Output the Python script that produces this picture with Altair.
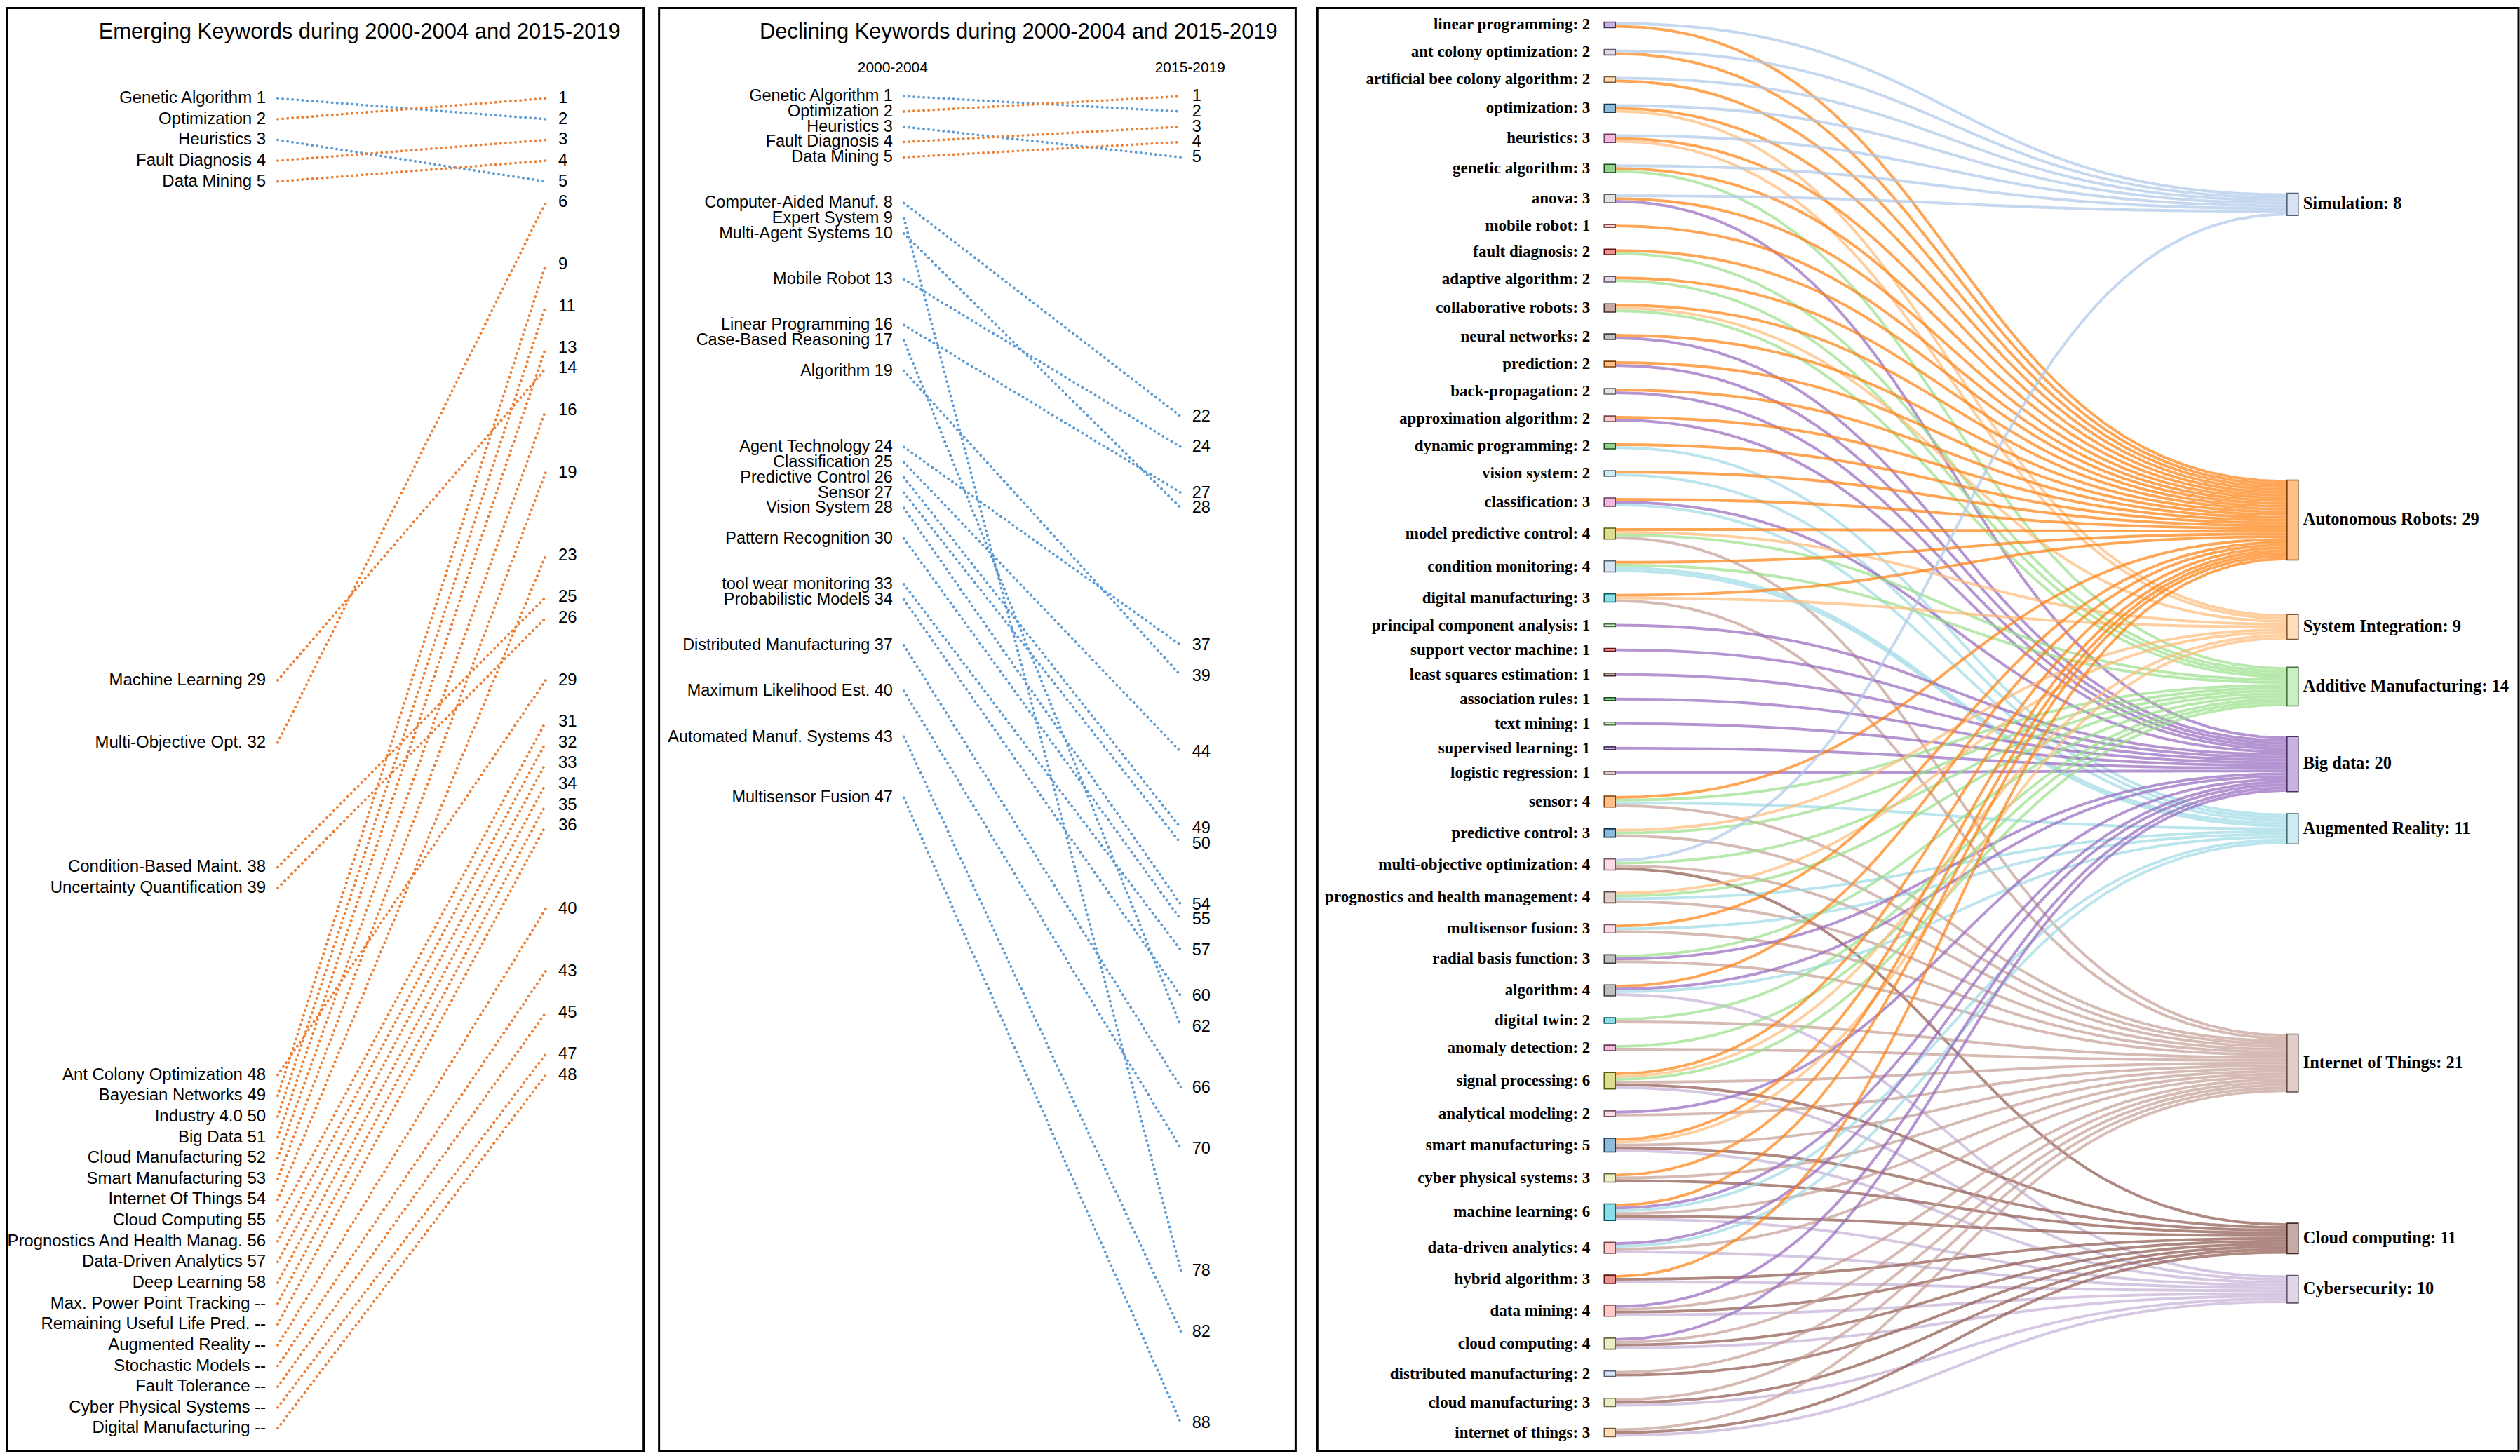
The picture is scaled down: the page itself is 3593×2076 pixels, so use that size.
import altair as alt
import pandas as pd

alt.data_transformers.disable_max_rows()

# ------------------------------------------------------------------ data
# Panel 1: emerging keywords (rank in 2000-2004 -> rank in 2015-2019)
em_keywords = ["Genetic Algorithm", "Optimization", "Heuristics", "Fault Diagnosis", "Data Mining",
               "Machine Learning", "Multi-Objective Opt.", "Condition-Based Maint.",
               "Uncertainty Quantification", "Ant Colony Optimization", "Bayesian Networks",
               "Industry 4.0", "Big Data", "Cloud Manufacturing", "Smart Manufacturing",
               "Internet Of Things", "Cloud Computing", "Prognostics And Health Manag.",
               "Data-Driven Analytics", "Deep Learning", "Max. Power Point Tracking",
               "Remaining Useful Life Pred.", "Augmented Reality", "Stochastic Models",
               "Fault Tolerance", "Cyber Physical Systems", "Digital Manufacturing"]
em_rank_2000 = [1, 2, 3, 4, 5, 29, 32, 38, 39, 48, 49, 50, 51, 52, 53, 54, 55, 56, 57, 58,
                None, None, None, None, None, None, None]
em_rank_2015 = [2, 1, 5, 3, 4, 14, 6, 25, 26, 29, 9, 11, 13, 16, 19, 23, 31, 32, 33, 34,
                35, 36, 40, 43, 45, 47, 48]

# Panel 2: declining keywords
de_keywords = ["Genetic Algorithm", "Optimization", "Heuristics", "Fault Diagnosis", "Data Mining",
               "Computer-Aided Manuf.", "Expert System", "Multi-Agent Systems", "Mobile Robot",
               "Linear Programming", "Case-Based Reasoning", "Algorithm", "Agent Technology",
               "Classification", "Predictive Control", "Sensor", "Vision System",
               "Pattern Recognition", "tool wear monitoring", "Probabilistic Models",
               "Distributed Manufacturing", "Maximum Likelihood Est.", "Automated Manuf. Systems",
               "Multisensor Fusion"]
de_rank_2000 = [1, 2, 3, 4, 5, 8, 9, 10, 13, 16, 17, 19, 24, 25, 26, 27, 28, 30, 33, 34, 37, 40, 43, 47]
de_rank_2015 = [2, 1, 5, 3, 4, 22, 78, 28, 24, 27, 62, 39, 37, 44, 49, 50, 54, 55, 57, 60, 66, 70, 82, 88]
periods = ["2000-2004", "2015-2019"]

# Panel 3: Sankey
sk_sources = ["linear programming", "ant colony optimization", "artificial bee colony algorithm",
              "optimization", "heuristics", "genetic algorithm", "anova", "mobile robot",
              "fault diagnosis", "adaptive algorithm", "collaborative robots", "neural networks",
              "prediction", "back-propagation", "approximation algorithm", "dynamic programming",
              "vision system", "classification", "model predictive control", "condition monitoring",
              "digital manufacturing", "principal component analysis", "support vector machine",
              "least squares estimation", "association rules", "text mining", "supervised learning",
              "logistic regression", "sensor", "predictive control", "multi-objective optimization",
              "prognostics and health management", "multisensor fusion", "radial basis function",
              "algorithm", "digital twin", "anomaly detection", "signal processing",
              "analytical modeling", "smart manufacturing", "cyber physical systems",
              "machine learning", "data-driven analytics", "hybrid algorithm", "data mining",
              "cloud computing", "distributed manufacturing", "cloud manufacturing",
              "internet of things"]
sk_targets = ["Simulation", "Autonomous Robots", "System Integration", "Additive Manufacturing",
              "Big data", "Augmented Reality", "Internet of Things", "Cloud computing", "Cybersecurity"]
# links: for each source keyword, the target topics it connects to (one unit each)
sk_links = [
    ["Simulation", "Autonomous Robots"],
    ["Simulation", "Autonomous Robots"],
    ["Simulation", "Autonomous Robots"],
    ["Simulation", "Autonomous Robots", "System Integration"],
    ["Simulation", "Autonomous Robots", "System Integration"],
    ["Simulation", "Autonomous Robots", "Additive Manufacturing"],
    ["Simulation", "Autonomous Robots", "Big data"],
    ["Autonomous Robots"],
    ["Autonomous Robots", "Additive Manufacturing"],
    ["Autonomous Robots", "Additive Manufacturing"],
    ["Autonomous Robots", "System Integration", "Additive Manufacturing"],
    ["Autonomous Robots", "Big data"],
    ["Autonomous Robots", "Big data"],
    ["Autonomous Robots", "Big data"],
    ["Autonomous Robots", "Big data"],
    ["Autonomous Robots", "Augmented Reality"],
    ["Autonomous Robots", "Augmented Reality"],
    ["Autonomous Robots", "Big data", "Augmented Reality"],
    ["Autonomous Robots", "System Integration", "Additive Manufacturing", "Internet of Things"],
    ["Autonomous Robots", "Additive Manufacturing", "Augmented Reality", "Augmented Reality"],
    ["Autonomous Robots", "System Integration", "Internet of Things"],
    ["Big data"], ["Big data"], ["Big data"], ["Big data"], ["Big data"], ["Big data"], ["Big data"],
    ["Autonomous Robots", "Additive Manufacturing", "Augmented Reality", "Internet of Things"],
    ["System Integration", "Additive Manufacturing", "Internet of Things"],
    ["Simulation", "Additive Manufacturing", "Internet of Things", "Cloud computing"],
    ["System Integration", "Additive Manufacturing", "Augmented Reality", "Internet of Things"],
    ["Autonomous Robots", "Augmented Reality", "Internet of Things"],
    ["Additive Manufacturing", "Big data", "Internet of Things"],
    ["Autonomous Robots", "Big data", "Augmented Reality", "Cybersecurity"],
    ["Additive Manufacturing", "Internet of Things"],
    ["Additive Manufacturing", "Internet of Things"],
    ["Autonomous Robots", "System Integration", "Additive Manufacturing", "Internet of Things",
     "Cloud computing", "Cybersecurity"],
    ["Big data", "Internet of Things"],
    ["Autonomous Robots", "System Integration", "Internet of Things", "Cloud computing", "Cybersecurity"],
    ["Autonomous Robots", "Internet of Things", "Cloud computing"],
    ["Autonomous Robots", "Big data", "Augmented Reality", "Internet of Things", "Cloud computing",
     "Cybersecurity"],
    ["Big data", "Augmented Reality", "Internet of Things", "Cybersecurity"],
    ["Autonomous Robots", "Cloud computing", "Cybersecurity"],
    ["Big data", "Internet of Things", "Cloud computing", "Cybersecurity"],
    ["Big data", "Internet of Things", "Cloud computing", "Cybersecurity"],
    ["Internet of Things", "Cloud computing"],
    ["Internet of Things", "Cloud computing", "Cybersecurity"],
    ["Internet of Things", "Cloud computing", "Cybersecurity"],
]

# ------------------------------------------------------------------ styles
ORANGE = "#ED7D31"
BLUE = "#5B9BD5"
FONT_SANS = "'Liberation Sans', Arial, sans-serif"
FONT_SERIF = "'Liberation Serif', 'Times New Roman', serif"
SRC_COLORS = ["#9467bd", "#c5b0d5", "#ffbb78", "#1f77b4", "#e377c2", "#2ca02c", "#c7c7c7", "#ff9896",
              "#d62728", "#c5b0d5", "#8c564b", "#7f7f7f", "#ff7f0e", "#c7c7c7", "#ff9896", "#2ca02c",
              "#9edae5", "#e377c2", "#bcbd22", "#aec7e8", "#17becf", "#98df8a", "#d62728", "#8c564b",
              "#2ca02c", "#98df8a", "#9467bd", "#c49c94", "#ff7f0e", "#1f77b4", "#f7b6d2", "#c49c94",
              "#f7b6d2", "#7f7f7f", "#7f7f7f", "#17becf", "#e377c2", "#bcbd22", "#f7b6d2", "#1f77b4",
              "#dbdb8d", "#17becf", "#ff9896", "#d62728", "#ff9896", "#dbdb8d", "#aec7e8", "#dbdb8d",
              "#ffbb78"]
TGT_COLORS = ["#aec7e8", "#ff7f0e", "#ffbb78", "#98df8a", "#9467bd", "#9edae5", "#c49c94",
              "#8c564b", "#c5b0d5"]

PANEL_W, PANEL_H = 910, 2062
SANKEY_W = 1717


def darker(hexcol, k=2):
    f = 0.7 ** k
    r, g, b = (int(hexcol[i:i + 2], 16) for i in (1, 3, 5))
    return "#%02x%02x%02x" % (int(r * f), int(g * f), int(b * f))


# ------------------------------------------------------------------ slope panels
def slope_panel(keywords, r0, r1, title, xdom, ydom, title_x, dx_l, dx_r, fsize, headers=False):
    last = max(r for r in r0 if r is not None)
    k = 0
    lines, left, right = [], [], []
    for name, a, b in zip(keywords, r0, r1):
        if a is None:
            k += 1
            pos = last + k
            lab = f"{name} --"
        else:
            pos = a
            lab = f"{name} {a}"
        col = ORANGE if (a is None or b < a) else BLUE
        lines.append({"kw": name, "p": 0, "rank": pos, "col": col})
        lines.append({"kw": name, "p": 1, "rank": b, "col": col})
        left.append({"p": 0, "rank": pos, "lab": lab})
        right.append({"p": 1, "rank": b, "lab": str(b)})
    xs = alt.Scale(domain=xdom, nice=False, zero=False)
    ys = alt.Scale(domain=ydom, nice=False, zero=False, reverse=True)
    ln = alt.Chart(pd.DataFrame(lines)).mark_line(
        strokeDash=[0.1, 7], strokeCap="round", strokeWidth=3.8
    ).encode(
        x=alt.X("p:Q", scale=xs, axis=None),
        y=alt.Y("rank:Q", scale=ys, axis=None),
        color=alt.Color("col:N", scale=None),
        detail="kw:N",
    )
    lt = alt.Chart(pd.DataFrame(left)).mark_text(
        align="right", baseline="middle", dx=dx_l, font=FONT_SANS, fontSize=fsize, color="black"
    ).encode(x=alt.X("p:Q", scale=xs, axis=None), y=alt.Y("rank:Q", scale=ys, axis=None), text="lab:N")
    rt = alt.Chart(pd.DataFrame(right)).mark_text(
        align="left", baseline="middle", dx=dx_r, font=FONT_SANS, fontSize=fsize, color="black"
    ).encode(x=alt.X("p:Q", scale=xs, axis=None), y=alt.Y("rank:Q", scale=ys, axis=None), text="lab:N")
    tt = alt.Chart(pd.DataFrame({"t": [title]})).mark_text(
        align="center", baseline="middle", font=FONT_SANS, fontSize=31, color="black"
    ).encode(x=alt.value(title_x), y=alt.value(35), text="t:N")
    layers = [ln, lt, rt, tt]
    if headers:
        hd = pd.DataFrame({"p": [0, 1], "t": periods})
        h0 = alt.Chart(hd.iloc[[0]]).mark_text(
            align="center", baseline="middle", dx=-16, font=FONT_SANS, fontSize=21, color="black"
        ).encode(x=alt.X("p:Q", scale=xs, axis=None), y=alt.value(86), text="t:N")
        h1 = alt.Chart(hd.iloc[[1]]).mark_text(
            align="center", baseline="middle", dx=13, font=FONT_SANS, fontSize=21, color="black"
        ).encode(x=alt.X("p:Q", scale=xs, axis=None), y=alt.value(86), text="t:N")
        layers += [h0, h1]
    return alt.layer(*layers).properties(width=PANEL_W, height=PANEL_H)


em_chart = slope_panel(em_keywords, em_rank_2000, em_rank_2015,
                       "Emerging Keywords during 2000-2004 and 2015-2019",
                       [-1.0104, 1.3655], [-3.343, 66.08], 504, -17, 18, 24)
de_chart = slope_panel(de_keywords, de_rank_2000, de_rank_2015,
                       "Declining Keywords during 2000-2004 and 2015-2019",
                       [-0.8838, 1.4141], [-4.78, 89.81], 514, -16, 16, 23.5, headers=True)

# ------------------------------------------------------------------ sankey layout (d3-sankey like)
X0L, X1L = 410, 426
X0R, X1R = 1386, 1402
Y_TOP, Y_BOT = 20, 2042
PAD = 31.2

src_vals = [len(t) for t in sk_links]
total = sum(src_vals)
ky = (Y_BOT - Y_TOP - PAD * (len(sk_sources) - 1)) / total

src_y0 = []
y = Y_TOP
for v in src_vals:
    src_y0.append(y)
    y += v * ky + PAD
src_c = [y0 + v * ky / 2 for y0, v in zip(src_y0, src_vals)]

tgt_val = {t: 0 for t in sk_targets}
tgt_sum = {t: 0.0 for t in sk_targets}
for i, tl in enumerate(sk_links):
    for t in tl:
        tgt_val[t] += 1
        tgt_sum[t] += src_c[i]
tgt_y0 = {t: tgt_sum[t] / tgt_val[t] - tgt_val[t] * ky / 2 for t in sk_targets}
order = sorted(sk_targets, key=lambda t: tgt_y0[t])
cur = Y_TOP
for t in order:
    if tgt_y0[t] < cur:
        tgt_y0[t] = cur
    cur = tgt_y0[t] + tgt_val[t] * ky + PAD
over = cur - PAD - Y_BOT
if over > 0:
    nxt = Y_BOT
    for t in reversed(order):
        if tgt_y0[t] + tgt_val[t] * ky > nxt:
            tgt_y0[t] = nxt - tgt_val[t] * ky
        nxt = tgt_y0[t] - PAD

# link offsets
links = []
for i, tl in enumerate(sk_links):
    for t in tl:
        links.append({"s": i, "t": t})
for i in range(len(sk_sources)):
    mine = sorted([l for l in links if l["s"] == i], key=lambda l: tgt_y0[l["t"]])
    yy = src_y0[i]
    for l in mine:
        l["ys"] = yy + ky / 2
        yy += ky
for t in sk_targets:
    mine = sorted([l for l in links if l["t"] == t], key=lambda l: l["ys"])
    yy = tgt_y0[t]
    for l in mine:
        l["yt"] = yy + ky / 2
        yy += ky

NPTS = 36
xm = (X1L + X0R) / 2
link_rows = []
for j, l in enumerate(links):
    for s in range(NPTS + 1):
        u = s / NPTS
        a, b, c, d = (1 - u) ** 3, 3 * (1 - u) ** 2 * u, 3 * (1 - u) * u ** 2, u ** 3
        link_rows.append({
            "id": j, "o": s,
            "x": a * X1L + b * xm + c * xm + d * X0R,
            "y": a * l["ys"] + b * l["ys"] + c * l["yt"] + d * l["yt"],
            "col": TGT_COLORS[sk_targets.index(l["t"])],
        })

node_rows = []
for i, name in enumerate(sk_sources):
    node_rows.append({"x0": X0L, "x1": X1L, "y0": src_y0[i], "y1": src_y0[i] + src_vals[i] * ky,
                      "fill": SRC_COLORS[i], "stroke": darker(SRC_COLORS[i]),
                      "lab": f"{name}: {src_vals[i]}", "side": "L"})
for j, t in enumerate(sk_targets):
    node_rows.append({"x0": X0R, "x1": X1R, "y0": tgt_y0[t], "y1": tgt_y0[t] + tgt_val[t] * ky,
                      "fill": TGT_COLORS[j], "stroke": darker(TGT_COLORS[j]),
                      "lab": f"{t}: {tgt_val[t]}", "side": "R"})
nodes = pd.DataFrame(node_rows)
nodes["yc"] = (nodes["y0"] + nodes["y1"]) / 2

sx = alt.Scale(domain=[0, SANKEY_W], nice=False, zero=False)
sy = alt.Scale(domain=[0, PANEL_H], nice=False, zero=False, reverse=True)

sk_lines = alt.Chart(pd.DataFrame(link_rows)).mark_line(strokeWidth=ky, strokeOpacity=0.7).encode(
    x=alt.X("x:Q", scale=sx, axis=None),
    y=alt.Y("y:Q", scale=sy, axis=None),
    color=alt.Color("col:N", scale=None),
    detail="id:N",
    order="o:Q",
)
sk_nodes = alt.Chart(nodes).mark_rect(fillOpacity=0.5, strokeWidth=1.6).encode(
    x=alt.X("x0:Q", scale=sx, axis=None), x2="x1:Q",
    y=alt.Y("y0:Q", scale=sy, axis=None), y2="y1:Q",
    fill=alt.Fill("fill:N", scale=None),
    stroke=alt.Stroke("stroke:N", scale=None),
)
sk_lab_l = alt.Chart(nodes[nodes.side == "L"]).mark_text(
    align="right", baseline="middle", dx=-20, font=FONT_SERIF, fontWeight="bold", fontSize=23,
    color="black"
).encode(x=alt.X("x0:Q", scale=sx, axis=None), y=alt.Y("yc:Q", scale=sy, axis=None), text="lab:N")
sk_lab_r = alt.Chart(nodes[nodes.side == "R"]).mark_text(
    align="left", baseline="middle", dx=7, font=FONT_SERIF, fontWeight="bold", fontSize=24.5,
    color="black"
).encode(x=alt.X("x1:Q", scale=sx, axis=None), y=alt.Y("yc:Q", scale=sy, axis=None), text="lab:N")

sankey = alt.layer(sk_lines, sk_nodes, sk_lab_l, sk_lab_r).properties(width=SANKEY_W, height=PANEL_H)

chart = alt.hconcat(alt.hconcat(em_chart, de_chart, spacing=18), sankey, spacing=27).properties(
    padding={"left": 7, "top": 7, "right": 0, "bottom": 0},
    background="white",
).configure_view(stroke="black", strokeWidth=3)

chart.save("out.html", embed_options={"renderer": "svg", "actions": False})
